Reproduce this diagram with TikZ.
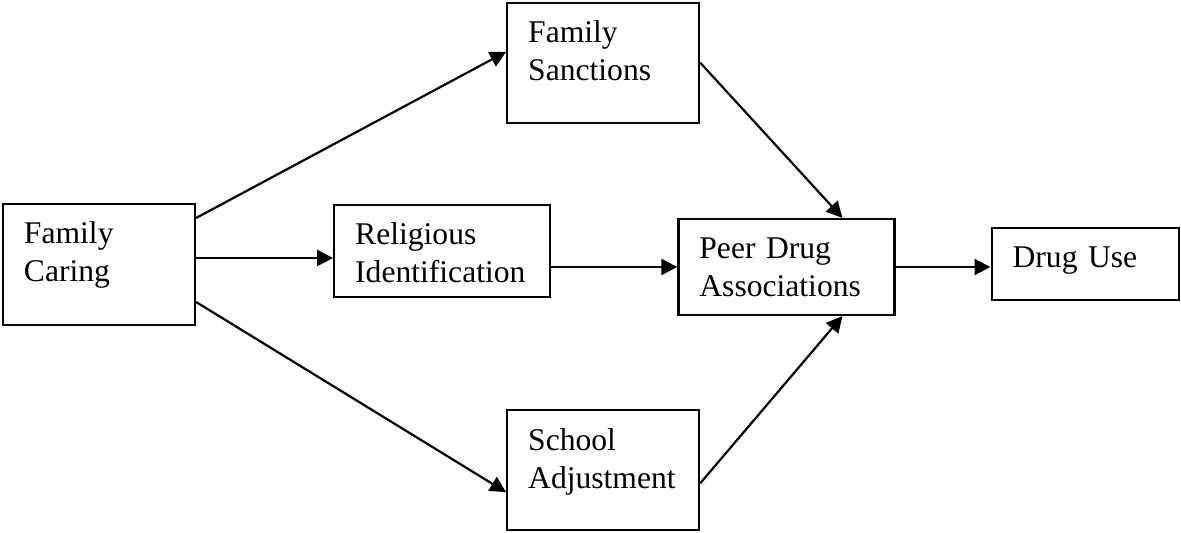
\documentclass[tikz,border=0pt]{standalone}
\usepackage{fontspec}
\setmainfont{Liberation Serif}
\usepackage{tikz}
\usetikzlibrary{arrows.meta, positioning}

\begin{document}
\begin{tikzpicture}[
    >={Triangle[length=8pt,width=8pt]},
    varbox/.style 2 args={rectangle, draw, line width=1.1pt, align=left, inner xsep=10.5pt, inner ysep=9pt, text height=11pt, text width=#1, text depth=#2, font=\fontsize{15.8}{18.9}\selectfont},
    link/.style={draw, ->, line width=1.1pt}
  ]
    \useasboundingbox (0,0) rectangle (590.5pt,-266.5pt);

    \node (caring) [varbox={75pt}{31.5pt}] at (49.5pt,-132.25pt) {Family\\Caring};
    \node (sanctions) [varbox={75pt}{31pt}, above right=39.5pt and 155pt of caring] {Family\\Sanctions};
    \node (religious) [varbox={87pt}{17pt}, right=68.5pt of caring, yshift=6.75pt] {Religious\\Identification};
    \node (school) [varbox={75pt}{31pt}, below right=41.5pt and 155pt of caring] {School\\Adjustment};
    \node (peer) [varbox={87pt}{19pt}, right=63pt of religious, yshift=-8pt] {Peer Drug\\Associations};
    \node (druguse) [varbox={72.5pt}{7pt}, right=47.5pt of peer, yshift=1.5pt] {Drug Use};

    \draw[link] ([yshift=23.25pt]caring.east) -- ([yshift=5.5pt]sanctions.west);
    \draw[link] ([yshift=3.25pt]caring.east) -- ([yshift=-3.5pt]religious.west);
    \draw[link] ([yshift=-18.75pt]caring.east) -- ([yshift=-11pt]school.west);
    \draw[link] (sanctions.east) -- ([xshift=28pt]peer.north);
    \draw[link] ([yshift=-8pt]religious.east) -- (peer.west);
    \draw[link] ([yshift=-6.5pt]school.east) -- ([xshift=28pt]peer.south);
    \draw[link] (peer.east) -- (peer.east -| druguse.west);
  \end{tikzpicture}
\end{document}
